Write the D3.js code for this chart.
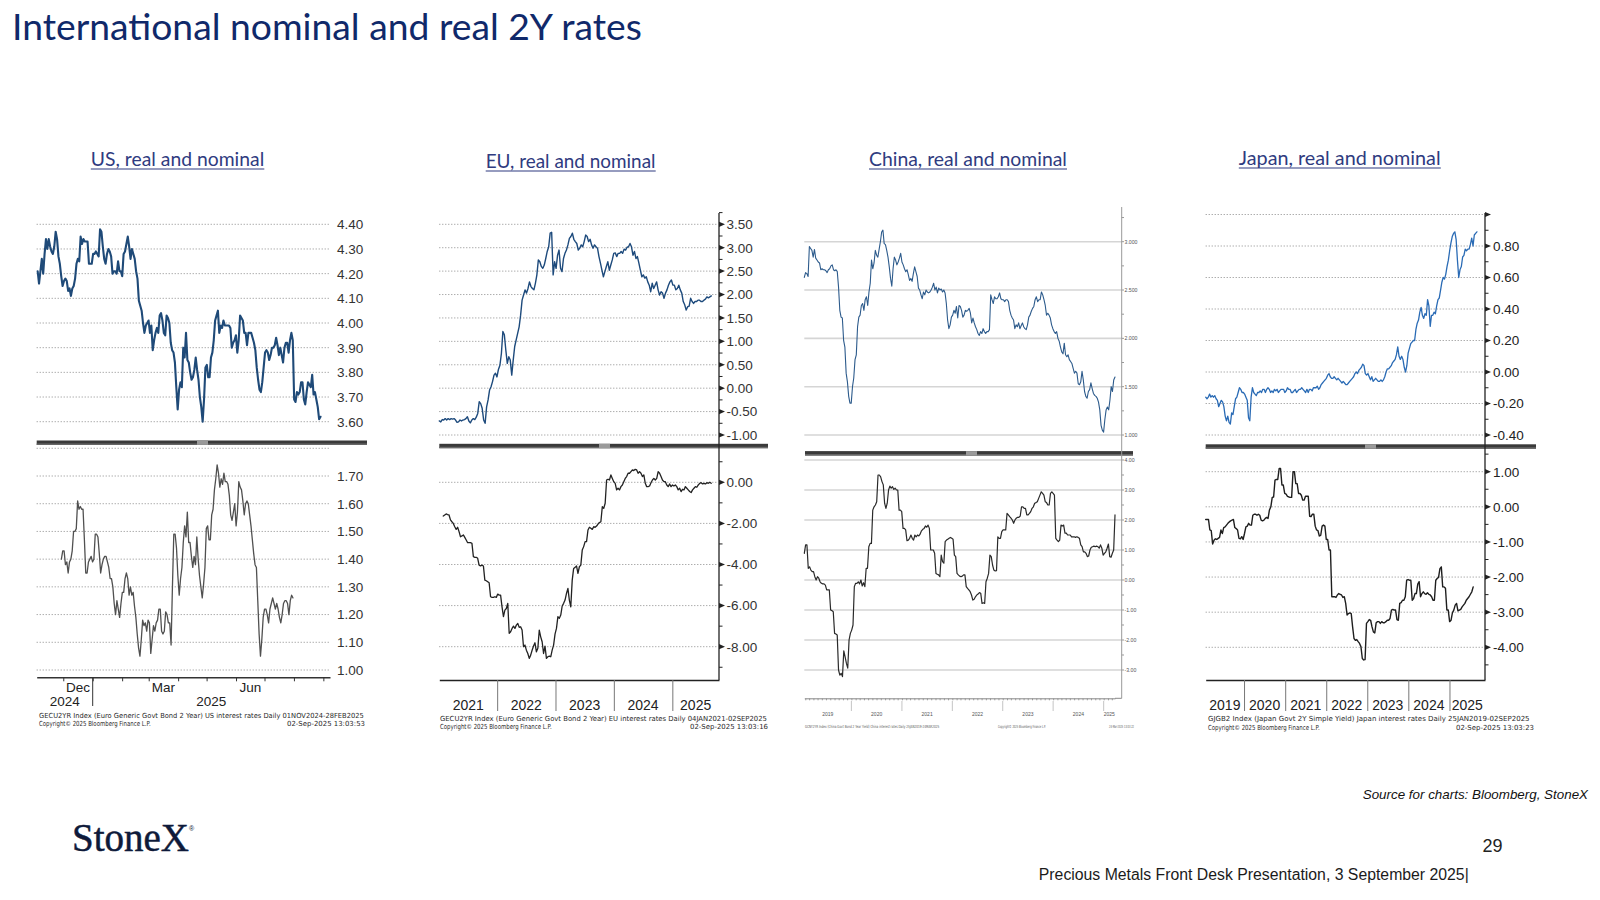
<!DOCTYPE html>
<html><head><meta charset="utf-8"><title>International nominal and real 2Y rates</title>
<script src="https://cdn.jsdelivr.net/npm/d3@7/dist/d3.min.js"></script>
<style>html,body{margin:0;padding:0;background:#fff;}svg{display:block;}</style>
</head><body>
<svg id="slide" width="1600" height="900" viewBox="0 0 1600 900"></svg>
<script>
// ================= DATA =================
const slideTitle = "International nominal and real 2Y rates";
const panelTitles = ["US, real and nominal", "EU, real and nominal", "China, real and nominal", "Japan, real and nominal"];

// ---- US (nominal 2Y, real 2Y) ----
const usNominalSpan = ["2024-11-04", "2025-08-29"];
const usNominal = [4.21,4.16,4.21,4.26,4.20,4.28,4.34,4.30,4.34,4.31,4.29,4.28,4.31,4.37,4.34,4.27,4.24,4.19,4.15,4.17,4.18,4.17,4.13,4.14,4.11,4.14,4.15,4.18,4.24,4.26,4.25,4.35,4.32,4.34,4.33,4.33,4.33,4.24,4.24,4.24,4.28,4.28,4.29,4.28,4.27,4.38,4.37,4.31,4.26,4.24,4.28,4.30,4.29,4.27,4.20,4.21,4.21,4.20,4.25,4.21,4.21,4.19,4.28,4.29,4.32,4.35,4.31,4.26,4.30,4.28,4.26,4.21,4.18,4.09,4.07,4.05,4.00,3.96,3.99,4.00,4.01,3.96,3.99,3.89,3.93,3.96,3.98,3.96,4.03,4.04,4.01,3.96,3.95,4.03,4.02,4.00,3.92,3.89,3.88,3.84,3.74,3.65,3.73,3.76,3.74,3.90,3.86,3.96,3.85,3.84,3.80,3.77,3.78,3.81,3.86,3.81,3.77,3.70,3.66,3.60,3.69,3.82,3.83,3.78,3.78,3.86,3.88,3.93,4.01,4.03,4.05,3.96,3.99,3.98,4.01,3.99,3.99,3.99,3.99,3.98,3.90,3.92,3.93,3.95,3.88,3.93,4.03,4.02,4.01,3.96,3.96,3.91,3.96,3.96,3.96,3.94,3.92,3.89,3.82,3.77,3.73,3.72,3.76,3.82,3.88,3.89,3.88,3.85,3.87,3.90,3.90,3.91,3.94,3.91,3.87,3.90,3.87,3.84,3.90,3.92,3.92,3.88,3.93,3.96,3.93,3.69,3.68,3.72,3.71,3.72,3.76,3.76,3.69,3.67,3.72,3.76,3.75,3.74,3.79,3.71,3.72,3.69,3.66,3.61,3.62];
const usRealSpan = ["2024-11-29", "2025-07-31"];
const usReal = [1.40,1.43,1.43,1.38,1.39,1.35,1.39,1.40,1.43,1.50,1.50,1.51,1.61,1.58,1.59,1.58,1.58,1.47,1.35,1.35,1.39,1.40,1.41,1.39,1.40,1.49,1.49,1.48,1.42,1.35,1.38,1.40,1.41,1.41,1.39,1.37,1.33,1.33,1.30,1.24,1.20,1.25,1.22,1.19,1.24,1.28,1.28,1.33,1.35,1.33,1.27,1.30,1.27,1.28,1.23,1.19,1.13,1.08,1.05,1.11,1.18,1.16,1.17,1.14,1.18,1.17,1.06,1.11,1.16,1.14,1.17,1.18,1.22,1.22,1.14,1.13,1.14,1.21,1.20,1.17,1.17,1.09,1.30,1.49,1.49,1.44,1.34,1.27,1.33,1.37,1.46,1.52,1.48,1.57,1.46,1.46,1.41,1.37,1.41,1.38,1.48,1.40,1.34,1.30,1.26,1.31,1.37,1.51,1.52,1.47,1.47,1.56,1.58,1.65,1.69,1.74,1.71,1.66,1.69,1.67,1.71,1.68,1.68,1.67,1.63,1.56,1.54,1.57,1.60,1.52,1.57,1.68,1.66,1.65,1.61,1.56,1.60,1.61,1.60,1.56,1.52,1.47,1.42,1.38,1.37,1.25,1.13,1.05,1.11,1.19,1.22,1.22,1.20,1.17,1.22,1.24,1.26,1.24,1.22,1.24,1.22,1.19,1.17,1.20,1.24,1.25,1.25,1.24,1.20,1.25,1.27,1.26];
const usTopTicks = [3.60, 3.70, 3.80, 3.90, 4.00, 4.10, 4.20, 4.30, 4.40];
const usBottomTicks = [1.00, 1.10, 1.20, 1.30, 1.40, 1.50, 1.60, 1.70];
const usMonthLabels = ["Dec", "Mar", "Jun"];
const usMonthStarts = ["2024-12-01", "2025-03-01", "2025-06-01"];
const usYearLabels = ["2024", "2025"];

// ---- EU ----
const euNominalSpan = ["2021-01-04", "2025-09-02"];
const euNominal = [-0.70,-0.72,-0.67,-0.68,-0.65,-0.68,-0.65,-0.67,-0.65,-0.66,-0.65,-0.68,-0.73,-0.72,-0.68,-0.70,-0.68,-0.67,-0.65,-0.61,-0.70,-0.74,-0.68,-0.65,-0.67,-0.62,-0.54,-0.29,-0.33,-0.43,-0.68,-0.75,-0.40,-0.25,-0.04,0.03,0.14,0.28,0.32,0.24,0.40,0.49,0.74,1.21,1.14,0.81,0.53,0.67,0.60,0.28,0.60,0.89,1.03,1.17,1.31,1.56,1.88,1.99,2.10,2.03,2.13,2.27,2.17,2.13,2.10,2.24,2.42,2.74,2.70,2.60,2.56,2.63,2.77,2.92,3.02,3.31,3.33,2.42,2.70,2.56,2.84,2.95,2.56,2.49,2.77,2.88,2.95,3.06,3.20,3.24,3.31,3.18,3.13,3.09,2.95,2.99,3.06,3.02,3.13,3.27,3.24,3.13,3.18,3.06,2.99,3.06,3.02,2.99,2.81,2.67,2.52,2.38,2.49,2.60,2.70,2.52,2.63,2.74,2.88,2.89,2.81,2.88,2.88,2.92,2.88,2.97,2.95,3.01,3.02,3.09,3.02,2.84,2.92,2.77,2.81,2.67,2.52,2.38,2.42,2.35,2.38,2.27,2.20,2.06,2.24,2.13,2.20,2.27,2.10,1.99,2.06,2.03,1.92,2.03,2.10,2.20,2.27,2.31,2.20,2.20,2.10,2.13,2.20,2.10,2.03,1.85,1.78,1.67,1.74,1.75,1.92,1.85,1.81,1.85,1.85,1.88,1.88,1.85,1.85,1.88,1.90,1.95,1.93,1.95,1.97];
const euRealSpan = ["2021-01-29", "2025-09-01"];
const euReal = [-1.64,-1.59,-1.54,-1.57,-1.59,-1.83,-1.92,-2.00,-2.16,-2.29,-2.19,-2.40,-2.65,-2.61,-2.56,-2.68,-2.81,-2.94,-2.94,-2.94,-2.97,-3.62,-3.65,-3.65,-3.70,-4.03,-4.07,-4.03,-4.07,-4.76,-4.79,-4.84,-4.89,-5.57,-5.60,-5.60,-5.57,-5.60,-5.44,-5.49,-5.49,-6.06,-6.54,-6.22,-6.14,-5.89,-7.35,-7.27,-7.11,-7.00,-7.11,-6.95,-6.87,-7.06,-7.03,-7.19,-8.00,-7.92,-8.17,-8.33,-8.57,-8.41,-8.17,-7.97,-7.81,-8.25,-8.08,-7.19,-7.52,-7.76,-8.33,-7.97,-8.57,-8.49,-8.46,-8.49,-8.17,-7.92,-7.39,-7.11,-6.54,-6.62,-6.46,-6.02,-5.89,-5.73,-5.41,-5.16,-5.73,-6.06,-4.76,-4.19,-4.14,-4.07,-4.43,-4.11,-4.03,-3.30,-3.13,-2.89,-2.89,-2.32,-2.19,-2.24,-2.29,-2.16,-2.19,-2.13,-2.03,-1.96,-1.92,-1.19,-1.27,-1.02,0.11,0.15,0.11,0.36,0.19,0.03,-0.05,-0.37,-0.29,-0.37,-0.21,-0.13,0.03,0.19,0.28,0.44,0.44,0.52,0.60,0.57,0.63,0.60,0.44,0.52,0.44,0.28,0.36,-0.05,-0.21,-0.21,-0.18,-0.02,0.11,0.19,0.11,0.19,0.52,0.44,0.28,0.11,0.03,0.03,-0.13,-0.21,-0.08,-0.21,-0.13,-0.18,-0.13,-0.21,-0.37,-0.29,-0.45,-0.34,-0.37,-0.21,-0.29,-0.37,-0.45,-0.50,-0.37,-0.29,-0.21,-0.24,-0.13,-0.05,-0.02,-0.08,-0.05,-0.08,-0.02,-0.05,0.00,-0.05];
const euTopTicks = [-1.00, -0.50, 0.00, 0.50, 1.00, 1.50, 2.00, 2.50, 3.00, 3.50];
const euBottomTicks = [-8.00, -6.00, -4.00, -2.00, 0.00];
const euYearLabels = ["2021", "2022", "2023", "2024", "2025"];

// ---- China ----
const chinaNominalSpan = ["2019-01-25", "2025-03-24"];
const chinaNominal = [2.63,2.68,2.67,2.64,2.95,2.93,2.91,2.84,2.92,2.83,2.81,2.79,2.78,2.71,2.72,2.71,2.71,2.70,2.68,2.71,2.72,2.75,2.76,2.71,2.70,2.71,2.69,2.53,2.29,2.22,2.21,1.98,1.91,1.64,1.55,1.40,1.33,1.33,1.50,1.59,1.78,1.83,2.12,2.22,2.24,2.34,2.36,2.29,2.40,2.43,2.34,2.48,2.57,2.81,2.72,2.78,2.91,2.86,2.84,2.92,3.00,3.10,3.12,2.98,2.97,2.91,2.84,2.74,2.62,2.54,2.72,2.84,2.81,2.76,2.79,2.83,2.88,2.79,2.76,2.72,2.69,2.71,2.66,2.60,2.62,2.59,2.67,2.74,2.69,2.64,2.52,2.50,2.45,2.41,2.48,2.45,2.50,2.48,2.47,2.48,2.50,2.53,2.57,2.50,2.53,2.47,2.52,2.50,2.51,2.48,2.50,2.47,2.36,2.19,2.10,2.14,2.22,2.24,2.29,2.26,2.33,2.21,2.34,2.33,2.29,2.22,2.24,2.29,2.28,2.29,2.31,2.26,2.16,2.21,2.16,2.12,2.09,2.05,2.03,2.07,2.05,2.10,2.07,2.05,2.07,2.07,2.09,2.45,2.40,2.36,2.43,2.41,2.41,2.43,2.47,2.41,2.40,2.40,2.38,2.40,2.40,2.38,2.29,2.24,2.21,2.19,2.10,2.14,2.12,2.16,2.10,2.13,2.16,2.12,2.10,2.09,2.14,2.22,2.24,2.28,2.31,2.33,2.40,2.43,2.38,2.40,2.40,2.48,2.45,2.40,2.34,2.24,2.26,2.24,2.21,2.14,2.10,2.07,2.05,2.07,2.00,1.97,1.91,1.86,1.84,1.95,1.83,1.81,1.83,1.78,1.76,1.74,1.69,1.64,1.66,1.64,1.53,1.52,1.55,1.66,1.57,1.45,1.40,1.38,1.45,1.47,1.54,1.48,1.43,1.41,1.40,1.38,1.34,1.26,1.10,1.05,1.03,1.16,1.26,1.29,1.26,1.36,1.50,1.45,1.57,1.60];
const chinaRealSpan = ["2019-01-25", "2025-03-24"];
const chinaReal = [0.89,1.17,1.17,0.39,0.44,0.33,0.28,0.28,0.11,0.00,0.11,0.06,-0.06,-0.11,-0.13,-0.13,-0.17,-0.33,-0.33,-0.33,-1.00,-1.02,-1.06,-1.78,-1.80,-1.83,-3.00,-3.17,-3.11,-3.22,-2.36,-2.56,-2.78,-2.94,-2.00,-1.78,-1.67,-1.50,-0.22,-0.11,-0.11,-0.06,-0.13,0.00,-0.20,-0.09,-0.22,0.39,0.39,1.11,1.22,1.22,2.33,2.44,2.50,2.61,3.50,3.50,3.44,3.28,3.17,2.56,2.39,2.56,3.00,3.13,3.06,3.11,3.02,3.06,3.00,3.00,2.33,2.33,2.28,1.72,1.72,1.67,1.31,1.33,1.39,1.50,1.39,1.33,1.50,1.44,1.50,1.47,1.53,1.64,1.69,1.72,1.80,1.76,1.83,1.72,1.00,1.00,1.00,0.89,0.22,0.19,0.17,0.11,0.83,0.61,0.56,1.28,1.33,1.36,1.39,1.42,1.39,1.36,0.83,0.78,0.22,0.17,0.13,0.11,0.13,0.17,0.17,-0.22,-0.28,-0.33,-0.39,-0.50,-0.67,-0.64,-0.56,-0.50,-0.47,-0.42,-0.44,-0.78,-0.76,-0.78,-0.06,0.06,0.22,0.83,0.78,0.50,0.33,0.30,0.31,1.44,1.39,1.39,1.61,1.67,1.67,1.67,2.22,2.17,2.11,2.06,2.00,1.89,2.00,2.06,2.09,2.09,2.13,2.44,2.44,2.39,2.39,2.17,2.17,2.22,2.28,2.39,2.44,2.56,2.58,2.61,2.72,2.83,2.94,2.89,2.83,2.61,2.58,2.50,2.50,2.89,2.94,2.89,2.83,1.39,1.33,1.28,1.33,1.83,1.80,1.83,1.56,1.56,1.50,1.50,1.50,1.44,1.44,1.44,1.42,1.44,1.42,1.39,1.17,1.11,0.94,0.94,0.89,0.78,0.80,1.00,1.09,1.11,1.13,1.11,1.13,1.11,1.06,1.17,1.06,0.83,0.89,0.94,1.06,1.20,0.78,0.76,0.89,1.00,2.17];
const chinaTopTicks = [1.0, 1.5, 2.0, 2.5, 3.0];
const chinaBottomTicks = [-3, -2, -1, 0, 1, 2, 3, 4];
const chinaYearLabels = ["2019", "2020", "2021", "2022", "2023", "2024", "2025"];

// ---- Japan ----
const japanNominalSpan = ["2019-01-25", "2025-09-02"];
const japanNominal = [-0.16,-0.17,-0.16,-0.14,-0.16,-0.15,-0.16,-0.15,-0.17,-0.18,-0.22,-0.20,-0.18,-0.19,-0.22,-0.28,-0.31,-0.28,-0.32,-0.33,-0.26,-0.27,-0.22,-0.17,-0.16,-0.13,-0.10,-0.11,-0.13,-0.13,-0.14,-0.16,-0.18,-0.29,-0.31,-0.16,-0.10,-0.13,-0.14,-0.15,-0.13,-0.13,-0.12,-0.13,-0.11,-0.11,-0.13,-0.11,-0.10,-0.11,-0.13,-0.12,-0.13,-0.11,-0.12,-0.11,-0.13,-0.12,-0.11,-0.11,-0.11,-0.13,-0.12,-0.10,-0.11,-0.11,-0.13,-0.13,-0.12,-0.11,-0.13,-0.12,-0.11,-0.11,-0.10,-0.11,-0.12,-0.13,-0.11,-0.13,-0.11,-0.11,-0.12,-0.10,-0.10,-0.10,-0.09,-0.11,-0.10,-0.08,-0.07,-0.06,-0.05,-0.04,-0.02,-0.01,-0.03,-0.04,-0.04,-0.03,-0.04,-0.05,-0.04,-0.05,-0.06,-0.07,-0.06,-0.07,-0.08,-0.08,-0.07,-0.06,-0.05,-0.04,-0.03,-0.01,0.00,-0.01,0.01,0.02,0.03,0.05,0.04,-0.01,-0.02,-0.01,-0.03,-0.05,-0.03,-0.06,-0.05,-0.04,-0.05,-0.06,-0.06,-0.05,-0.06,-0.05,-0.03,0.00,0.02,0.02,0.03,0.04,0.06,0.07,0.08,0.11,0.16,0.10,0.08,0.10,0.08,0.03,0.00,0.04,0.12,0.15,0.18,0.19,0.20,0.20,0.27,0.31,0.33,0.38,0.41,0.36,0.34,0.37,0.36,0.46,0.42,0.29,0.36,0.36,0.38,0.37,0.42,0.46,0.47,0.52,0.57,0.60,0.59,0.62,0.67,0.71,0.77,0.82,0.86,0.88,0.89,0.84,0.71,0.60,0.65,0.67,0.73,0.74,0.78,0.77,0.78,0.78,0.81,0.85,0.80,0.87,0.88,0.89];
const japanRealSpan = ["2019-01-25", "2025-07-31"];
const japanReal = [-0.36,-0.36,-0.36,-0.66,-0.68,-1.06,-0.95,-0.91,-0.93,-0.90,-0.87,-0.66,-0.76,-0.59,-0.57,-0.52,-0.47,-0.43,-0.40,-0.38,-0.36,-0.59,-0.62,-0.66,-0.90,-0.91,-0.85,-0.93,-0.76,-0.57,-0.55,-0.47,-0.52,-0.52,-0.24,-0.21,-0.21,-0.24,-0.21,-0.24,-0.38,-0.40,-0.38,-0.33,-0.30,-0.33,-0.09,0.00,0.27,0.28,0.76,0.78,0.78,1.09,1.09,0.62,0.62,0.38,0.36,0.30,0.28,0.27,0.27,1.00,1.00,0.66,0.66,0.38,0.38,0.33,0.19,0.19,0.30,0.30,0.30,-0.27,-0.28,-0.21,-0.21,-0.55,-0.66,-0.68,-0.83,-0.81,-0.55,-0.52,-0.55,-0.93,-0.93,-1.23,-1.23,-2.56,-2.56,-2.56,-2.58,-2.51,-2.47,-2.49,-2.51,-2.58,-2.56,-2.75,-3.08,-3.04,-3.02,-3.04,-3.42,-3.75,-3.80,-3.78,-3.84,-3.89,-3.98,-4.32,-4.36,-4.35,-3.32,-3.27,-3.21,-3.23,-3.42,-3.56,-3.59,-3.30,-3.27,-3.27,-3.32,-3.27,-3.30,-3.30,-3.27,-3.23,-3.23,-3.18,-2.94,-2.92,-2.94,-2.94,-3.21,-3.23,-2.75,-2.73,-2.66,-2.66,-2.56,-2.09,-2.07,-2.09,-2.09,-2.66,-2.61,-2.47,-2.47,-2.20,-2.13,-2.56,-2.47,-2.42,-2.47,-2.49,-2.45,-2.49,-2.51,-2.56,-2.66,-2.66,-2.09,-2.04,-2.01,-1.76,-1.71,-2.28,-2.28,-2.32,-2.94,-2.94,-3.27,-3.23,-3.02,-2.94,-2.80,-2.75,-2.96,-2.94,-2.92,-2.85,-2.80,-2.75,-2.66,-2.61,-2.56,-2.49,-2.42,-2.28];
const japanTopTicks = [-0.40, -0.20, 0.00, 0.20, 0.40, 0.60, 0.80];
const japanBottomTicks = [-4.00, -3.00, -2.00, -1.00, 0.00, 1.00];
const japanYearLabels = ["2019", "2020", "2021", "2022", "2023", "2024", "2025"];

// ---- footers / slide texts ----
const usFooter = ["GECU2YR Index (Euro Generic Govt Bond 2 Year) US interest rates  Daily 01NOV2024-28FEB2025", "Copyright\u00a9 2025 Bloomberg Finance L.P.", "02-Sep-2025 13:03:53"];
const euFooter = ["GECU2YR Index (Euro Generic Govt Bond 2 Year) EU interest rates  Daily 04JAN2021-02SEP2025", "Copyright\u00a9 2025 Bloomberg Finance L.P.", "02-Sep-2025 13:03:16"];
const chinaFooter = ["GCNY2YR Index (China Govt Bond 2 Year Yield) China interest rates  Daily 25JAN2019-24MAR2025", "Copyright\u00a9 2025 Bloomberg Finance L.P.", "24-Mar-2025 13:03:22"];
const japanFooter = ["GJGB2 Index (Japan Govt 2Y Simple Yield) Japan interest rates  Daily 25JAN2019-02SEP2025", "Copyright\u00a9 2025 Bloomberg Finance L.P.", "02-Sep-2025 13:03:23"];
const sourceNote = "Source for charts: Bloomberg, StoneX";
const pageNumber = "29";
const footerNote = "Precious Metals Front Desk Presentation, 3 September 2025|";
const logoText = "StoneX";

// ================= DRAWING =================
const svg = d3.select("#slide");
const parse = d3.timeParse("%Y-%m-%d");
const loc = d3.formatLocale({decimal: ".", thousands: ",", grouping: [3], currency: ["", ""], minus: "-"});
const fmt2 = loc.format(".2f"), fmt3 = loc.format(".3f");
const AX = "'Liberation Sans', Arial, sans-serif";
const BB = "'DejaVu Sans', Verdana, sans-serif";
const SLIDE = "Lato, 'Open Sans', sans-serif";

function series(vals, span) {
  const t0 = +parse(span[0]), t1 = +parse(span[1]), n = vals.length;
  return vals.map((v, i) => ({date: new Date(t0 + (t1 - t0) * i / (n - 1)), value: v}));
}
function fitWidth(sel, w) {
  const L = sel.node().getComputedTextLength();
  if (L > 0) sel.attr("font-size", parseFloat(sel.attr("font-size")) * w / L);
  return sel;
}
// text compressed horizontally (via transform) to a given width, starting at x
function squeezed(g, txt, x, y, size, w, color) {
  const t = g.append("text").attr("font-family", BB).attr("font-size", size).attr("fill", color).text(txt);
  const L = t.node().getComputedTextLength() || w;
  t.attr("transform", `translate(${x},${y}) scale(${w / L},1)`);
  return t;
}
function plotLine(g, data, x, y, color, w) {
  g.append("path").datum(data)
    .attr("fill", "none").attr("stroke", color).attr("stroke-width", w)
    .attr("stroke-linejoin", "round").attr("stroke-linecap", "round")
    .attr("d", d3.line().x(d => x(d.date)).y(d => y(d.value)));
}
function grid(g, y, vals, x0, x1, st) {
  g.selectAll(null).data(vals).join("line")
    .attr("x1", x0).attr("x2", x1).attr("y1", d => y(d)).attr("y2", d => y(d))
    .attr("stroke", st.color).attr("stroke-width", st.w).attr("stroke-dasharray", st.dash || null);
}
function yLabels(g, y, vals, lx, f, size, color, font) {
  g.selectAll(null).data(vals).join("text")
    .attr("x", lx).attr("y", d => y(d)).attr("dy", "0.36em")
    .attr("font-family", font || AX).attr("font-size", size).attr("fill", color).text(f);
}
function bbAxis(g, y, ax, top, bottom, majors, minors) {
  g.append("line").attr("x1", ax).attr("x2", ax).attr("y1", top).attr("y2", bottom).attr("stroke", "#222").attr("stroke-width", 1.3);
  g.selectAll(null).data(majors).join("path")
    .attr("d", d => `M${ax},${y(d) - 2.6}L${ax + 6},${y(d)}L${ax},${y(d) + 2.6}Z`).attr("fill", "#222");
  g.selectAll(null).data(minors).join("line")
    .attr("x1", ax).attr("x2", ax + 3.5).attr("y1", d => y(d)).attr("y2", d => y(d)).attr("stroke", "#222").attr("stroke-width", 1);
}
function separator(g, x0, x1, yc, hx) {
  g.append("rect").attr("x", x0).attr("y", yc - 2.2).attr("width", x1 - x0).attr("height", 4.4).attr("fill", "#3a3a3a");
  g.append("rect").attr("x", x0).attr("y", yc + 0.8).attr("width", x1 - x0).attr("height", 1.4).attr("fill", "#6a6a6a");
  g.append("rect").attr("x", hx).attr("y", yc - 2.2).attr("width", 11).attr("height", 4.4).attr("fill", "#9a9a9a");
}
function yearCenters(x, years) {
  const [d0, d1] = x.domain();
  return years.map(t => {
    const a = new Date(Math.max(+new Date(+t, 0, 1), +d0));
    const b = new Date(Math.min(+new Date(+t + 1, 0, 1), +d1));
    return {t, cx: (x(a) + x(b)) / 2};
  });
}
function footer(g, lines, x0, x1, y1, y2, w1, w2, w3) {
  squeezed(g, lines[0], x0, y1, 7, w1, "#2a2a2a");
  squeezed(g, lines[1], x0, y2, 7, w2, "#2a2a2a");
  squeezed(g, lines[2], x1 - w3, y2, 7, w3, "#2a2a2a");
}
const DOT = {color: "#8a8a8a", w: 1, dash: "1 2"};

function draw() {
  // ----- slide title & panel titles -----
  fitWidth(svg.append("text").attr("x", 12).attr("y", 40).attr("font-family", SLIDE).attr("font-size", 34)
    .attr("fill", "#10296a").text(slideTitle), 630);

  const titlePos = [[90.8, 166, 173.5], [485.7, 168, 170], [869, 166, 198], [1238.8, 165, 202]];
  panelTitles.forEach((t, i) => {
    const [tx, ty, tw] = titlePos[i];
    fitWidth(svg.append("text").attr("x", tx).attr("y", ty).attr("font-family", SLIDE)
      .attr("font-size", 19).attr("fill", "#2f3b80").text(t), tw);
    svg.append("line").attr("x1", tx).attr("x2", tx + tw).attr("y1", ty + 3).attr("y2", ty + 3)
      .attr("stroke", "#2f3b80").attr("stroke-width", 1.1);
  });

  // ================= US =================
  const gUS = svg.append("g");
  const xUS = d3.scaleTime().domain([parse("2024-11-03"), parse("2025-09-08")]).range([36.7, 330]);
  const yUSt = d3.scaleLinear().domain([3.6, 4.4]).range([421.7, 224.3]);
  const yUSb = d3.scaleLinear().domain([1.0, 1.7]).range([670, 476]);
  grid(gUS, yUSt, usTopTicks, 36.7, 330, DOT);
  yLabels(gUS, yUSt, usTopTicks, 337, fmt2, 13.5, "#333");
  grid(gUS, yUSb, usBottomTicks.concat([1.8]), 36.7, 330, DOT);
  yLabels(gUS, yUSb, usBottomTicks, 337, fmt2, 13.5, "#333");
  separator(gUS, 36.7, 367, 442.7, 197);
  plotLine(gUS, series(usNominal, usNominalSpan), xUS, yUSt, "#1f4a78", 2.1);
  plotLine(gUS, series(usReal, usRealSpan), xUS, yUSb, "#505050", 1.3);
  const axUS = gUS.append("g").attr("transform", "translate(0,677.3)")
    .call(d3.axisBottom(xUS).ticks(d3.timeMonth.every(1)).tickSize(4).tickSizeOuter(0).tickFormat(""));
  axUS.select(".domain").attr("stroke", "#333").attr("stroke-width", 1.5);
  axUS.selectAll(".tick line").attr("stroke", "#333");
  gUS.append("line").attr("x1", xUS(parse("2025-01-01"))).attr("x2", xUS(parse("2025-01-01")))
    .attr("y1", 677.3).attr("y2", 706).attr("stroke", "#333").attr("stroke-width", 1);
  gUS.selectAll(null).data(usMonthLabels).join("text")
    .attr("x", (d, i) => { const m = parse(usMonthStarts[i]); return (xUS(m) + xUS(d3.timeMonth.offset(m, 1))) / 2; })
    .attr("y", 691.5).attr("text-anchor", "middle").attr("font-family", AX).attr("font-size", 13.5).attr("fill", "#222").text(d => d);
  gUS.selectAll(null).data(yearCenters(xUS, usYearLabels)).join("text")
    .attr("x", d => d.cx).attr("y", 705.5).attr("text-anchor", "middle").attr("font-family", AX)
    .attr("font-size", 13.5).attr("fill", "#222").text(d => d.t);
  footer(gUS, usFooter, 39, 365, 717.5, 725.5, 325, 112, 78);

  // ================= EU =================
  const gEU = svg.append("g");
  const xEU = d3.scaleTime().domain([parse("2021-01-04"), parse("2025-10-20")]).range([439.3, 719]);
  const yEUt = d3.scaleLinear().domain([-1, 3.5]).range([435, 224.3]);
  const yEUb = d3.scaleLinear().domain([-8, 0]).range([646.7, 482.3]);
  grid(gEU, yEUt, euTopTicks, 439.3, 717, DOT);
  grid(gEU, yEUb, euBottomTicks, 439.3, 717, DOT);
  separator(gEU, 439.3, 768, 446, 599);
  plotLine(gEU, series(euNominal, euNominalSpan), xEU, yEUt, "#1d4a7c", 1.4);
  plotLine(gEU, series(euReal, euRealSpan), xEU, yEUb, "#222", 1.3);
  bbAxis(gEU, yEUt, 719, 213, 446, euTopTicks, d3.range(-0.75, 3.8, 0.5));
  bbAxis(gEU, yEUb, 719, 446, 680, euBottomTicks, [-9, -7, -5, -3, -1, 1]);
  yLabels(gEU, yEUt, euTopTicks, 726.5, fmt2, 13.5, "#333");
  yLabels(gEU, yEUb, euBottomTicks, 726.5, fmt2, 13.5, "#333");
  const axEU = gEU.append("g").attr("transform", "translate(0,680)")
    .call(d3.axisBottom(xEU).ticks(d3.timeYear.every(1)).tickSize(31).tickSizeOuter(0).tickFormat(""));
  axEU.select(".domain").attr("stroke", "#222").attr("stroke-width", 1.3);
  axEU.selectAll(".tick line").attr("stroke", "#777");
  gEU.selectAll(null).data(yearCenters(xEU, euYearLabels)).join("text")
    .attr("x", d => d.cx).attr("y", 710).attr("text-anchor", "middle").attr("font-family", AX)
    .attr("font-size", 14).attr("fill", "#222").text(d => d.t);
  footer(gEU, euFooter, 440, 768, 720.5, 729, 328, 112, 78);

  // ================= CHINA =================
  const gCN = svg.append("g");
  const xCN = d3.scaleTime().domain([parse("2019-01-25"), parse("2025-03-24")]).range([804.3, 1115]);
  const yCNt = d3.scaleLinear().domain([1, 3]).range([435, 241.7]);
  const yCNb = d3.scaleLinear().domain([-3, 4]).range([670, 460]);
  const SOLID = {color: "#d5d5d5", w: 1.6};
  grid(gCN, yCNt, chinaTopTicks, 804.3, 1121.7, SOLID);
  grid(gCN, yCNb, chinaBottomTicks, 804.3, 1121.7, SOLID);
  separator(gCN, 805, 1133, 453.3, 966);
  plotLine(gCN, series(chinaNominal, chinaNominalSpan), xCN, yCNt, "#2d5b8c", 1.1);
  plotLine(gCN, series(chinaReal, chinaRealSpan), xCN, yCNb, "#2a2a2a", 1.2);
  gCN.append("line").attr("x1", 1121.7).attr("x2", 1121.7).attr("y1", 207).attr("y2", 698.3).attr("stroke", "#999").attr("stroke-width", 1);
  gCN.selectAll(null).data(d3.range(1, 3.3, 0.25)).join("line")
    .attr("x1", 1121.7).attr("x2", 1124).attr("y1", d => yCNt(d)).attr("y2", d => yCNt(d)).attr("stroke", "#999");
  gCN.selectAll(null).data(d3.range(-3, 4.1, 0.5)).join("line")
    .attr("x1", 1121.7).attr("x2", 1124).attr("y1", d => yCNb(d)).attr("y2", d => yCNb(d)).attr("stroke", "#999");
  yLabels(gCN, yCNt, chinaTopTicks, 1124.5, fmt3, 5.2, "#555");
  yLabels(gCN, yCNb, chinaBottomTicks, 1124.5, fmt2, 5.2, "#555");
  const axCN = gCN.append("g").attr("transform", "translate(0,698.3)")
    .call(d3.axisBottom(xCN).ticks(d3.timeMonth.every(1)).tickSize(2).tickSizeOuter(0).tickFormat(""));
  axCN.select(".domain").attr("stroke", "#888").attr("stroke-width", 1);
  axCN.selectAll(".tick line").attr("stroke", "#999");
  gCN.append("line").attr("x1", 1115).attr("x2", 1121.7).attr("y1", 698.3).attr("y2", 698.3).attr("stroke", "#888");
  gCN.selectAll(null).data(xCN.ticks(d3.timeYear.every(1))).join("line")
    .attr("x1", d => xCN(d)).attr("x2", d => xCN(d)).attr("y1", 701).attr("y2", 711).attr("stroke", "#c4c4c4");
  gCN.selectAll(null).data(yearCenters(xCN, chinaYearLabels)).join("text")
    .attr("x", d => d.cx).attr("y", 715.5).attr("text-anchor", "middle").attr("font-family", AX)
    .attr("font-size", 5).attr("fill", "#555").text(d => d.t);
  squeezed(gCN, chinaFooter[0], 805, 728, 4.2, 134, "#555");
  squeezed(gCN, chinaFooter[1], 998, 728, 4.2, 48, "#555");
  squeezed(gCN, chinaFooter[2], 1109, 728, 4.2, 25, "#555");

  // ================= JAPAN =================
  const gJP = svg.append("g");
  const xJP = d3.scaleTime().domain([parse("2019-01-25"), parse("2025-11-13")]).range([1205.7, 1485]);
  const yJPt = d3.scaleLinear().domain([-0.4, 0.8]).range([435, 246]);
  const yJPb = d3.scaleLinear().domain([-4, 1]).range([647.3, 471.7]);
  grid(gJP, yJPt, japanTopTicks.concat([1.0]), 1205.7, 1484, DOT);
  grid(gJP, yJPb, japanBottomTicks, 1205.7, 1484, DOT);
  separator(gJP, 1205.7, 1536, 446.5, 1365);
  plotLine(gJP, series(japanNominal, japanNominalSpan), xJP, yJPt, "#2a6bb5", 1.3);
  plotLine(gJP, series(japanReal, japanRealSpan), xJP, yJPb, "#1e1e1e", 1.4);
  bbAxis(gJP, yJPt, 1485, 213, 446, japanTopTicks.concat([1.0]), d3.range(-0.3, 0.95, 0.2));
  bbAxis(gJP, yJPb, 1485, 446, 680, japanBottomTicks, d3.range(-4.5, 1.6, 1));
  yLabels(gJP, yJPt, japanTopTicks, 1493, fmt2, 13.5, "#222");
  yLabels(gJP, yJPb, japanBottomTicks, 1493, fmt2, 13.5, "#222");
  const axJP = gJP.append("g").attr("transform", "translate(0,680)")
    .call(d3.axisBottom(xJP).ticks(d3.timeYear.every(1)).tickSize(31).tickSizeOuter(0).tickFormat(""));
  axJP.select(".domain").attr("stroke", "#222").attr("stroke-width", 1.3);
  axJP.selectAll(".tick line").attr("stroke", "#777");
  gJP.selectAll(null).data(yearCenters(xJP, japanYearLabels)).join("text")
    .attr("x", d => d.cx).attr("y", 710).attr("text-anchor", "middle").attr("font-family", AX)
    .attr("font-size", 14).attr("fill", "#222").text(d => d.t);
  footer(gJP, japanFooter, 1208, 1534, 720.5, 729.5, 322, 112, 78);

  // ----- slide footer -----
  fitWidth(svg.append("text").attr("x", 1588).attr("y", 799).attr("text-anchor", "end").attr("font-family", AX)
    .attr("font-style", "italic").attr("font-size", 13).attr("fill", "#111").text(sourceNote), 225.5);
  svg.append("text").attr("x", 1482.6).attr("y", 852).attr("font-family", AX).attr("font-size", 18).attr("fill", "#222").text(pageNumber);
  fitWidth(svg.append("text").attr("x", 1038.8).attr("y", 880).attr("font-family", AX).attr("font-size", 15.5)
    .attr("fill", "#1b1b1b").text(footerNote), 430.6);
  svg.append("text").attr("x", 72).attr("y", 851).attr("font-family", "'Liberation Serif', 'DejaVu Serif', serif")
    .attr("font-size", 39).attr("fill", "#0e1a3a").attr("stroke", "#0e1a3a").attr("stroke-width", 0.5).text(logoText);
  svg.append("text").attr("x", 189).attr("y", 831).attr("font-family", AX).attr("font-size", 7).attr("fill", "#0e1a3a").text("\u00ae");
}

if (document.fonts && document.fonts.ready) document.fonts.ready.then(draw); else draw();
</script>
</body></html>
